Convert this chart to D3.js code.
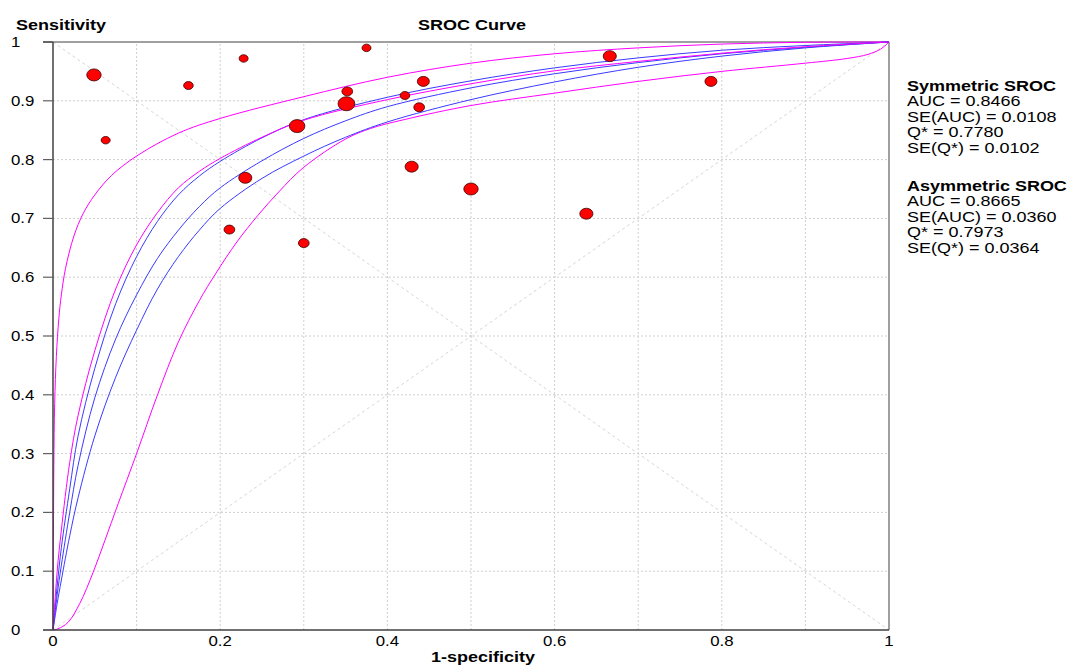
<!DOCTYPE html>
<html>
<head>
<meta charset="utf-8">
<script src="https://cdn.jsdelivr.net/npm/d3@7"></script>
<style>
  body { margin: 0; background: #fff; }
  text { font-family: "Liberation Sans", Arial, sans-serif; fill: #000; }
</style>
</head>
<body>
<div id="chart"></div>
<script>
// studies : 1-specificity, sensitivity, poids (taille du point)
var studyFpr = [0.049, 0.063, 0.162, 0.228, 0.375, 0.292, 0.351, 0.352, 0.230, 0.211, 0.300,
                0.421, 0.443, 0.438, 0.429, 0.500, 0.638, 0.666, 0.787];
var studySens = [0.944, 0.833, 0.926, 0.972, 0.990, 0.857, 0.895, 0.916, 0.769, 0.681, 0.658,
                 0.909, 0.933, 0.889, 0.788, 0.750, 0.708, 0.976, 0.933];
var studyWeight = [36, 14, 16, 14, 14, 42, 49, 20, 30, 20, 20, 16, 25, 20, 30, 36, 30, 30, 25];

// courbes : [1-specificity, sensitivity]
var symSroc = [[0,0],[0.005,0.06],[0.01,0.11],[0.02,0.2],[0.03,0.28],[0.05,0.395],[0.075,0.495],
  [0.1,0.57],[0.125,0.632],[0.15,0.68],[0.175,0.72],[0.2,0.752],[0.25,0.798],[0.3,0.836],
  [0.35,0.866],[0.4,0.89],[0.5,0.922],[0.6,0.946],[0.7,0.965],[0.8,0.98],[0.9,0.991],[1,1]];
var symUpper = [[0,0],[0.005,0.075],[0.01,0.14],[0.02,0.24],[0.03,0.33],[0.05,0.445],[0.075,0.555],
  [0.1,0.635],[0.125,0.695],[0.15,0.74],[0.175,0.772],[0.2,0.797],[0.25,0.837],[0.3,0.868],
  [0.4,0.906],[0.5,0.934],[0.6,0.956],[0.7,0.973],[0.8,0.986],[0.9,0.994],[1,1]];
var symLower = [[0,0],[0.005,0.045],[0.01,0.085],[0.02,0.16],[0.03,0.225],[0.05,0.33],[0.075,0.43],
  [0.1,0.51],[0.125,0.58],[0.15,0.635],[0.175,0.68],[0.2,0.717],[0.25,0.768],[0.3,0.806],
  [0.35,0.838],[0.4,0.864],[0.5,0.902],[0.6,0.932],[0.7,0.957],[0.8,0.976],[0.9,0.99],[1,1]];
var asymSroc = [[0,0],[0.005,0.1],[0.01,0.17],[0.02,0.285],[0.03,0.365],[0.05,0.475],[0.075,0.58],
  [0.1,0.655],[0.125,0.71],[0.15,0.752],[0.175,0.78],[0.2,0.802],[0.25,0.838],[0.3,0.867],
  [0.4,0.902],[0.5,0.929],[0.6,0.951],[0.7,0.967],[0.8,0.981],[0.9,0.992],[1,1]];
var asymUpper = [[0,0],[0.0005,0.15],[0.001,0.28],[0.002,0.385],[0.004,0.465],[0.007,0.53],[0.01,0.57],
  [0.015,0.615],[0.025,0.67],[0.036,0.708],[0.05,0.74],[0.07,0.773],[0.1,0.806],[0.15,0.845],
  [0.2,0.87],[0.3,0.907],[0.4,0.94],[0.5,0.964],[0.6,0.98],[0.7,0.99],[0.8,0.9965],[0.9,0.9995],[1,1]];
var asymLower = [[0,0],[0.006,0.002],[0.018,0.013],[0.032,0.045],[0.048,0.098],[0.062,0.152],
  [0.078,0.215],[0.1,0.3],[0.125,0.4],[0.15,0.49],[0.175,0.56],[0.195,0.607],[0.22,0.66],
  [0.245,0.705],[0.27,0.745],[0.3,0.787],[0.35,0.835],[0.38,0.853],[0.42,0.868],[0.5,0.892],
  [0.6,0.913],[0.7,0.933],[0.8,0.95],[0.9,0.964],[0.95,0.972],[0.975,0.979],[0.99,0.988],[1,1]];

var yTicks = [0, 0.1, 0.2, 0.3, 0.4, 0.5, 0.6, 0.7, 0.8, 0.9, 1];
var xTicks = [0, 0.2, 0.4, 0.6, 0.8, 1];
var gridTicks = [0.1, 0.2, 0.3, 0.4, 0.5, 0.6, 0.7, 0.8, 0.9];

var symTitle = "Symmetric SROC";
var symStats = ["AUC = 0.8466", "SE(AUC) = 0.0108", "Q* = 0.7780", "SE(Q*) = 0.0102"];
var asymTitle = "Asymmetric SROC";
var asymStats = ["AUC = 0.8665", "SE(AUC) = 0.0360", "Q* = 0.7973", "SE(Q*) = 0.0364"];

var width = 1075, height = 667,
    stretch = 1.2; // l'image d'origine est étirée en largeur

var x = d3.scaleLinear().domain([0, 1]).range([53, 889]);
var y = d3.scaleLinear().domain([0, 1]).range([630, 42]);
var rScale = d3.scaleSqrt().domain([0, 49]).range([0, 7]);

var svg = d3.select("#chart").append("svg")
  .attr("width", width).attr("height", height);

function txt(sel, px, py, s, size, bold, anchor) {
  //texte étiré horizontalement comme l'original
  return sel.append("text")
    .attr("transform", "translate(" + px + "," + py + ") scale(" + stretch + ",1)")
    .attr("text-anchor", anchor || "start")
    .style("font-size", size + "px")
    .style("font-weight", bold ? "bold" : "normal")
    .text(s);
}

// grille pointillée
var grid = svg.append("g");
grid.selectAll("line.gx").data(gridTicks).enter().append("line")
  .attr("x1", d => x(d)).attr("x2", d => x(d))
  .attr("y1", y(0)).attr("y2", y(1))
  .style("stroke", "#cfcfcf").style("stroke-dasharray", "2,2");
grid.selectAll("line.gy").data(gridTicks).enter().append("line")
  .attr("y1", d => y(d)).attr("y2", d => y(d))
  .attr("x1", x(0)).attr("x2", x(1))
  .style("stroke", "#cfcfcf").style("stroke-dasharray", "2,2");

// diagonales
grid.selectAll("line.diag").data([[[0,0],[1,1]], [[0,1],[1,0]]]).enter().append("line")
  .attr("x1", d => x(d[0][0])).attr("y1", d => y(d[0][1]))
  .attr("x2", d => x(d[1][0])).attr("y2", d => y(d[1][1]))
  .style("stroke", "#d6d6d6").style("stroke-dasharray", "3,3");

// cadre
svg.append("line").attr("x1", x(0)).attr("x2", x(1)).attr("y1", y(1)).attr("y2", y(1))
  .style("stroke", "#808080").style("stroke-width", 1.5);
svg.append("line").attr("x1", x(1)).attr("x2", x(1)).attr("y1", y(0)).attr("y2", y(1))
  .style("stroke", "#808080").style("stroke-width", 1.5);

// courbes
var line = d3.line().x(d => x(d[0])).y(d => y(d[1])).curve(d3.curveCatmullRom.alpha(0.5));
var curves = [
  [asymLower, "#ff00ff"], [asymUpper, "#ff00ff"],
  [symLower, "#3a3aff"], [symSroc, "#3a3aff"], [symUpper, "#3a3aff"],
  [asymSroc, "#ff00ff"]
];
svg.append("g").selectAll("path").data(curves).enter().append("path")
  .attr("d", d => line(d[0]))
  .style("fill", "none")
  .style("stroke", d => d[1])
  .style("stroke-width", 1);

// axes
svg.append("line").attr("x1", x(0)).attr("x2", x(0)).attr("y1", y(0)).attr("y2", y(1))
  .style("stroke", "#404040").style("stroke-width", 1.5);
svg.append("line").attr("x1", x(0) - 10).attr("x2", x(1)).attr("y1", y(0)).attr("y2", y(0))
  .style("stroke", "#404040").style("stroke-width", 1.5);
svg.append("line").attr("x1", x(0) - 10).attr("x2", x(0)).attr("y1", y(1)).attr("y2", y(1))
  .style("stroke", "#404040").style("stroke-width", 1.5);
svg.selectAll("line.ytick").data(yTicks).enter().append("line")
  .attr("x1", x(0) - 10).attr("x2", x(0))
  .attr("y1", d => y(d)).attr("y2", d => y(d))
  .style("stroke", "#606060").style("stroke-width", 1.2);

// points des études
var pts = d3.range(studyFpr.length);
svg.append("g").selectAll("ellipse").data(pts).enter().append("ellipse")
  .attr("cx", i => x(studyFpr[i]))
  .attr("cy", i => y(studySens[i]))
  .attr("rx", i => rScale(studyWeight[i]) * stretch)
  .attr("ry", i => rScale(studyWeight[i]))
  .style("fill", "#ff0000")
  .style("stroke", "#3a0000")
  .style("stroke-width", 0.8);

// étiquettes
var labels = svg.append("g");
yTicks.forEach(function(t) {
  txt(labels, 11, y(t) + 5, d3.format("")(t), 14, false, "start");
});
xTicks.forEach(function(t) {
  txt(labels, x(t), 646, d3.format("")(t), 14, false, "middle");
});
txt(labels, 16, 30, "Sensitivity", 15, true, "start");
txt(labels, 472, 30, "SROC Curve", 15, true, "middle");
txt(labels, 483, 662, "1-specificity", 15, true, "middle");

txt(labels, 907, 90.5, symTitle, 15, true, "start");
symStats.forEach(function(s, i) {
  txt(labels, 907, 106 + i * 15.5, s, 15, false, "start");
});
txt(labels, 907, 190.5, asymTitle, 15, true, "start");
asymStats.forEach(function(s, i) {
  txt(labels, 907, 206 + i * 15.5, s, 15, false, "start");
});
</script>
</body>
</html>
